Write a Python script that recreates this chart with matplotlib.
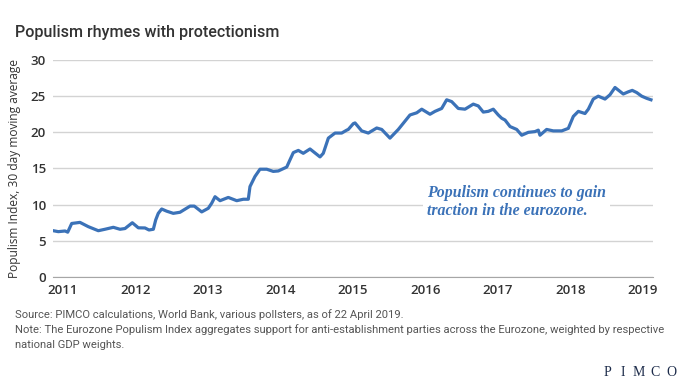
import matplotlib.pyplot as plt

# populism index (decimal year, index value)
years = [2010.866, 2010.935, 2011.028, 2011.065, 2011.12, 2011.234, 2011.349, 2011.487,
         2011.579, 2011.694, 2011.786, 2011.855, 2011.956, 2012.039, 2012.131, 2012.186,
         2012.246, 2012.279, 2012.314, 2012.361, 2012.43, 2012.521, 2012.614, 2012.752,
         2012.811, 2012.913, 2013.004, 2013.051, 2013.097, 2013.166, 2013.28, 2013.396,
         2013.487, 2013.556, 2013.579, 2013.648, 2013.717, 2013.81, 2013.9, 2013.97,
         2014.086, 2014.131, 2014.177, 2014.246, 2014.314, 2014.407, 2014.545, 2014.59,
         2014.66, 2014.752, 2014.844, 2014.913, 2014.935, 2015.004, 2015.028, 2015.12,
         2015.211, 2015.327, 2015.396, 2015.51, 2015.625, 2015.786, 2015.879, 2015.948,
         2016.062, 2016.131, 2016.223, 2016.292, 2016.361, 2016.452, 2016.545, 2016.659,
         2016.728, 2016.797, 2016.866, 2016.935, 2017.004, 2017.051, 2017.097, 2017.166,
         2017.258, 2017.327, 2017.418, 2017.51, 2017.556, 2017.579, 2017.671, 2017.763,
         2017.879, 2017.97, 2018.039, 2018.108, 2018.2, 2018.246, 2018.314, 2018.383,
         2018.476, 2018.545, 2018.614, 2018.728, 2018.797, 2018.852, 2018.913, 2018.982,
         2019.051, 2019.11]
index = [6.4, 6.27, 6.36, 6.2, 7.4, 7.55, 6.96, 6.4,
         6.6, 6.87, 6.6, 6.7, 7.5, 6.8, 6.78, 6.5,
         6.6, 7.9, 8.8, 9.4, 9.1, 8.8, 8.95, 9.8,
         9.8, 9.0, 9.5, 10.2, 11.1, 10.55, 11.0, 10.55,
         10.75, 10.75, 12.5, 13.9, 14.9, 14.9, 14.6, 14.66,
         15.2, 16.2, 17.2, 17.5, 17.1, 17.7, 16.6, 17.1,
         19.2, 19.9, 19.9, 20.3, 20.4, 21.2, 21.3, 20.2,
         19.9, 20.6, 20.4, 19.2, 20.4, 22.4, 22.7, 23.2,
         22.5, 22.9, 23.3, 24.5, 24.25, 23.3, 23.2, 23.9,
         23.65, 22.8, 22.9, 23.2, 22.4, 21.95, 21.7, 20.8,
         20.4, 19.6, 20.0, 20.1, 20.3, 19.6, 20.4, 20.2,
         20.2, 20.55, 22.2, 22.9, 22.6, 23.2, 24.6, 25.0,
         24.6, 25.2, 26.2, 25.3, 25.6, 25.8, 25.5, 25.0,
         24.7, 24.5]

year_ticks = [2011, 2012, 2013, 2014, 2015, 2016, 2017, 2018, 2019]
y_ticks = [0, 5, 10, 15, 20, 25, 30]

blue = "#3b72b8"
fig = plt.figure(figsize=(6.8, 3.83), dpi=100)
ax = fig.add_axes([53 / 680, 1 - 277 / 383, 600 / 680, 217 / 383])

ax.plot(years, index, color=blue, lw=2.3, solid_joinstyle="round", zorder=3)

ax.set_xlim(2010.862, 2019.138)
ax.set_ylim(0, 30)
ax.set_yticks(y_ticks)
ax.set_xticks(year_ticks)
ax.set_xticklabels([str(y) for y in year_ticks])
ax.grid(axis="y", color="#d3d3d3", lw=1.0)
ax.set_axisbelow(True)
for s in ["top", "right", "left"]:
    ax.spines[s].set_visible(False)
ax.spines["bottom"].set_color("#a6a6a6")
ax.tick_params(length=0, labelsize=9.5, colors="#333333", pad=5)
for lab in ax.get_xticklabels() + ax.get_yticklabels():
    lab.set_fontfamily("Open Sans")
    lab.set_fontweight("semibold")
ax.set_ylabel("Populism Index, 30 day moving average", fontsize=8.6, family="Open Sans",
              color="#333333", labelpad=7)

ax.text(2016.02, 10.4, "Populism continues to gain\ntraction in the eurozone.",
        family="Liberation Serif", style="italic", weight="bold", fontsize=11.4,
        color=blue, va="center", ha="left", multialignment="left", linespacing=1.15,
        bbox=dict(facecolor="white", edgecolor="none", pad=3), zorder=4)

fig.text(15 / 680, 1 - 33 / 383, "Populism rhymes with protectionism", family="Roboto",
         weight="medium", fontsize=11.6, color="#333333", va="center")
foot = dict(family="Roboto", fontsize=8.1, color="#555555", va="center")
fig.text(15 / 680, 1 - 315 / 383,
         "Source: PIMCO calculations, World Bank, various pollsters, as of 22 April 2019.", **foot)
fig.text(15 / 680, 1 - 330 / 383,
         "Note: The Eurozone Populism Index aggregates support for anti-establishment parties across the Eurozone, weighted by respective",
         **foot)
fig.text(15 / 680, 1 - 345 / 383, "national GDP weights.", **foot)
for i, ch in enumerate("PIMCO"):
    fig.text((607 + i * 16) / 680, 1 - 372 / 383, ch, family="Liberation Serif",
             fontsize=10, color="#1c2b4a", va="center", ha="center")

fig.savefig("out.png", dpi=100)
